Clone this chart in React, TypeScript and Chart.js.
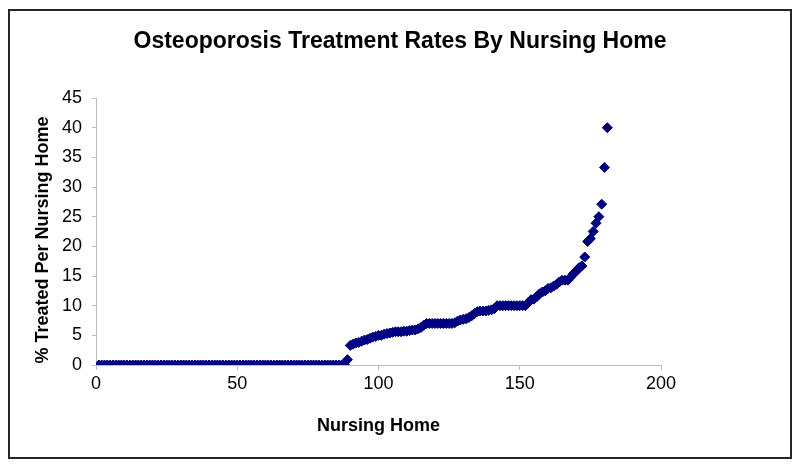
import { useEffect, useRef } from "react";
import { Chart, registerables } from "chart.js";

Chart.register(...registerables);

const chartTitle = "Osteoporosis Treatment Rates By Nursing Home";
const xAxisTitle = "Nursing Home";
const yAxisTitle = "% Treated Per Nursing Home";
const xTickValues = [0, 50, 100, 150, 200];
const yTickValues = [0, 5, 10, 15, 20, 25, 30, 35, 40, 45];

// % treated for each nursing home (sorted), nursing homes numbered 1..181
const treatedPct = [
  0, 0, 0, 0, 0, 0, 0, 0, 0, 0,
  0, 0, 0, 0, 0, 0, 0, 0, 0, 0,
  0, 0, 0, 0, 0, 0, 0, 0, 0, 0,
  0, 0, 0, 0, 0, 0, 0, 0, 0, 0,
  0, 0, 0, 0, 0, 0, 0, 0, 0, 0,
  0, 0, 0, 0, 0, 0, 0, 0, 0, 0,
  0, 0, 0, 0, 0, 0, 0, 0, 0, 0,
  0, 0, 0, 0, 0, 0, 0, 0, 0, 0,
  0, 0, 0, 0, 0, 0, 0, 0,
  0.9, 3.3, 3.5, 3.7, 3.8, 4.0, 4.2, 4.3, 4.5, 4.7,
  4.8, 5.0, 5.0, 5.2, 5.3, 5.4, 5.5, 5.6, 5.6, 5.6,
  5.7, 5.7, 5.8, 5.9, 5.9, 6.1, 6.3, 6.7, 7.0, 7.0,
  7.0, 7.0, 7.0, 7.0, 7.0, 7.0, 7.0, 7.0, 7.1, 7.4,
  7.6, 7.7, 7.8, 8.0, 8.3, 8.7, 9.0, 9.1, 9.1, 9.1,
  9.2, 9.3, 9.5, 10, 10, 10, 10, 10, 10, 10,
  10, 10, 10, 10, 10.5, 11.0, 11.1, 11.5, 12.0, 12.3,
  12.5, 12.9, 13.0, 13.3, 13.6, 14.0, 14.3, 14.3, 14.3, 14.8,
  15.4, 15.8, 16.4, 16.7, 18.2, 20.8, 21.3, 22.5, 23.9, 25.0,
  27.1, 33.3, 40.0,
];

const FONT = '"Liberation Sans", Arial, Helvetica, sans-serif';
const AXIS_COLOR = "#bdbdbd";

export default function App() {
  const canvasRef = useRef<HTMLCanvasElement>(null);

  useEffect(() => {
    const canvas = canvasRef.current;
    if (!canvas) return;

    const framePlugin = {
      id: "frame",
      beforeDraw(chart: any) {
        const ctx = chart.ctx;
        ctx.save();
        ctx.fillStyle = "#ffffff";
        ctx.fillRect(0, 0, chart.width, chart.height);
        ctx.strokeStyle = "#262626";
        ctx.lineWidth = 2;
        ctx.strokeRect(9, 10, 782, 448);
        ctx.restore();
      },
    };

    const titlesPlugin = {
      id: "titles",
      afterDraw(chart: any) {
        const ctx = chart.ctx;
        ctx.save();
        ctx.fillStyle = "#000";
        ctx.textAlign = "center";
        ctx.textBaseline = "middle";
        ctx.font = `bold 23px ${FONT}`;
        ctx.fillText(chartTitle, 400, 42);
        ctx.translate(43, 240);
        ctx.rotate(-Math.PI / 2);
        ctx.font = `bold 18px ${FONT}`;
        ctx.fillText(yAxisTitle, 0, 0);
        ctx.restore();
      },
    };

    const chart = new Chart(canvas, {
      type: "scatter",
      data: {
        datasets: [
          {
            data: treatedPct.map((v, i) => ({ x: i + 1, y: v })),
            pointStyle: "rectRot",
            pointRadius: 5,
            pointHoverRadius: 5,
            backgroundColor: "#000080",
            borderColor: "#000080",
            borderWidth: 1,
          },
        ],
      },
      options: {
        responsive: false,
        animation: false,
        devicePixelRatio: 1,
        layout: { padding: { left: 0, right: 139, top: 98, bottom: 23 } },
        plugins: {
          legend: { display: false },
          tooltip: { enabled: false },
          title: { display: false },
        },
        scales: {
          x: {
            type: "linear",
            min: 0,
            max: 200,
            afterBuildTicks: (s: any) => {
              s.ticks = xTickValues.map((v) => ({ value: v }));
            },
            afterFit: (s: any) => {
              s.height = 80;
            },
            grid: {
              drawOnChartArea: false,
              drawTicks: true,
              tickLength: 5,
              color: AXIS_COLOR,
            },
            border: { display: true, color: AXIS_COLOR },
            ticks: {
              color: "#000",
              font: { family: FONT, size: 18 },
              padding: 3,
              maxRotation: 0,
            },
            title: {
              display: true,
              text: xAxisTitle,
              color: "#000",
              font: { family: FONT, size: 18, weight: "bold" },
              padding: { top: 0, bottom: 8 },
            },
          },
          y: {
            type: "linear",
            min: 0,
            max: 45,
            afterBuildTicks: (s: any) => {
              s.ticks = yTickValues.map((v) => ({ value: v }));
            },
            afterFit: (s: any) => {
              s.width = 96;
            },
            grid: {
              drawOnChartArea: false,
              drawTicks: true,
              tickLength: 4,
              color: AXIS_COLOR,
            },
            border: { display: true, color: AXIS_COLOR },
            ticks: {
              color: "#000",
              font: { family: FONT, size: 18 },
              padding: 10,
            },
          },
        },
      },
      plugins: [framePlugin, titlesPlugin],
    });

    return () => chart.destroy();
  }, []);

  return (
    <div
      style={{
        position: "fixed",
        left: 0,
        top: 0,
        width: 800,
        height: 468,
        background: "#fff",
      }}
    >
      <canvas ref={canvasRef} width={800} height={468} style={{ display: "block" }} />
    </div>
  );
}
